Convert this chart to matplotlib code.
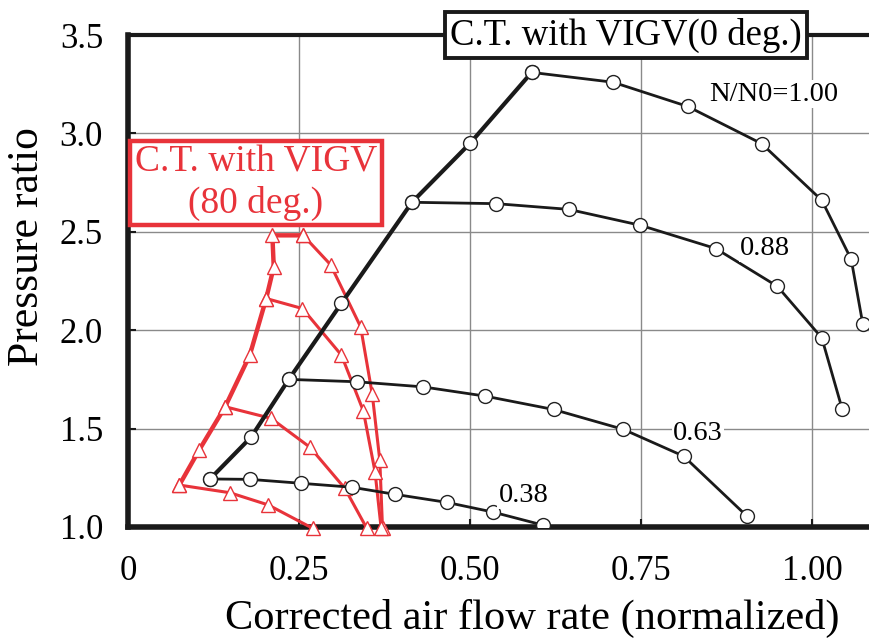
import matplotlib
matplotlib.use("Agg")
import matplotlib.pyplot as plt

plt.rcParams['font.family'] = ['Liberation Serif', 'DejaVu Serif']

# --- C.T. with VIGV (0 deg.) : black, circles ---
surge0_x = [0.120, 0.180, 0.235, 0.312, 0.415, 0.500, 0.590]
surge0_y = [1.244, 1.457, 1.750, 2.137, 2.650, 2.950, 3.310]

n100_x = [0.590, 0.709, 0.818, 0.926, 1.014, 1.057, 1.074]
n100_y = [3.310, 3.260, 3.137, 2.948, 2.660, 2.360, 2.030]

n088_x = [0.415, 0.538, 0.644, 0.749, 0.859, 0.949, 1.014, 1.044]
n088_y = [2.650, 2.643, 2.614, 2.533, 2.415, 2.223, 1.961, 1.597]

n063_x = [0.235, 0.334, 0.431, 0.522, 0.622, 0.724, 0.812, 0.904]
n063_y = [1.750, 1.738, 1.712, 1.665, 1.597, 1.496, 1.360, 1.057]

n038_x = [0.120, 0.178, 0.253, 0.327, 0.390, 0.466, 0.533, 0.606]
n038_y = [1.244, 1.242, 1.222, 1.202, 1.166, 1.125, 1.076, 1.010]

# --- C.T. with VIGV (80 deg.) : red, triangles ---
surge80_x = [0.075, 0.104, 0.142, 0.178, 0.202, 0.213, 0.211, 0.256]
surge80_y = [1.213, 1.391, 1.611, 1.873, 2.161, 2.321, 2.482, 2.482]

ra_x = [0.256, 0.296, 0.340, 0.357, 0.368, 0.372]
ra_y = [2.482, 2.333, 2.017, 1.674, 1.340, 0.993]

rb_x = [0.202, 0.255, 0.312, 0.344, 0.361, 0.370]
rb_y = [2.161, 2.110, 1.873, 1.589, 1.281, 0.993]

rc_x = [0.142, 0.209, 0.266, 0.317, 0.349]
rc_y = [1.611, 1.552, 1.405, 1.196, 0.993]

rd_x = [0.075, 0.149, 0.205, 0.270]
rd_y = [1.213, 1.174, 1.112, 0.993]

speed_labels = ['N/N0=1.00', '0.88', '0.63', '0.38']
speed_label_x = [0.943, 0.931, 0.833, 0.578]
speed_label_y = [3.200, 2.415, 1.477, 1.162]

xticks = [0, 0.25, 0.5, 0.75, 1.0]
xtick_labels = ['0', '0.25', '0.50', '0.75', '1.00']
yticks = [1.0, 1.5, 2.0, 2.5, 3.0, 3.5]
ytick_labels = ['1.0', '1.5', '2.0', '2.5', '3.0', '3.5']

red = '#e8333a'

fig = plt.figure(figsize=(8.69, 6.40), dpi=100)
ax = fig.add_axes([0.1473, 0.1766, 0.8527, 0.7687])
ax.set_xlim(0, 1.083)
ax.set_ylim(1.0, 3.5)

ax.grid(True, color='#8a8a8a', lw=1.0, zorder=0)
ax.set_axisbelow(True)

circ = dict(marker='o', ms=10, mfc='white', mec='#222222', mew=1.0, color='#1a1a1a', zorder=4)
ax.plot(surge0_x, surge0_y, lw=3.0, **circ)
for xs, ys in [(n100_x, n100_y), (n088_x, n088_y), (n063_x, n063_y), (n038_x, n038_y)]:
    ax.plot(xs, ys, lw=2.0, **circ)

tri = dict(marker='^', ms=10, mfc='white', mec=red, mew=1.0, color=red, zorder=3)
ax.plot(surge80_x, surge80_y, lw=3.2, clip_on=False, **tri)
for xs, ys in [(ra_x, ra_y), (rb_x, rb_y), (rc_x, rc_y), (rd_x, rd_y)]:
    ax.plot(xs, ys, lw=2.2, clip_on=False, **tri)

for lab, lx, ly in zip(speed_labels, speed_label_x, speed_label_y):
    ax.text(lx, ly, lab, fontsize=20.5, ha='center', va='center', zorder=5,
            bbox=dict(fc='white', ec='none', pad=1))

ax.text(0.728, 3.5, 'C.T. with VIGV(0 deg.)', fontsize=26.5, ha='center', va='center',
        zorder=6, clip_on=False,
        bbox=dict(fc='white', ec='#1a1a1a', lw=2.8, boxstyle='square,pad=0.14'))
ax.text(0.187, 2.749, 'C.T. with VIGV\n(80 deg.)', fontsize=27, ha='center', va='center',
        color=red, zorder=6, linespacing=1.22,
        bbox=dict(fc='white', ec=red, lw=3.2, boxstyle='square,pad=0.12'))

ax.set_xticks(xticks)
ax.set_xticklabels(xtick_labels)
ax.set_yticks(yticks)
ax.set_yticklabels(ytick_labels)
ax.tick_params(direction='in', length=6, width=1.5, labelsize=25, color='#1a1a1a')
ax.tick_params(axis='x', pad=20)
ax.tick_params(axis='y', pad=18)

ax.set_xlabel('Corrected air flow rate (normalized)', fontsize=30.5)
ax.set_ylabel('Pressure ratio', fontsize=31.5)
ax.xaxis.set_label_coords(0.545, -0.185)
ax.yaxis.set_label_coords(-0.136, 0.569)
ax.xaxis.label.set_va('center')
ax.yaxis.label.set_va('center')

for side in ['left', 'bottom']:
    ax.spines[side].set_linewidth(4)
    ax.spines[side].set_color('#1a1a1a')
ax.spines['top'].set_linewidth(3)
ax.spines['top'].set_color('#1a1a1a')
ax.spines['right'].set_visible(False)

fig.savefig('out.png', dpi=100)
